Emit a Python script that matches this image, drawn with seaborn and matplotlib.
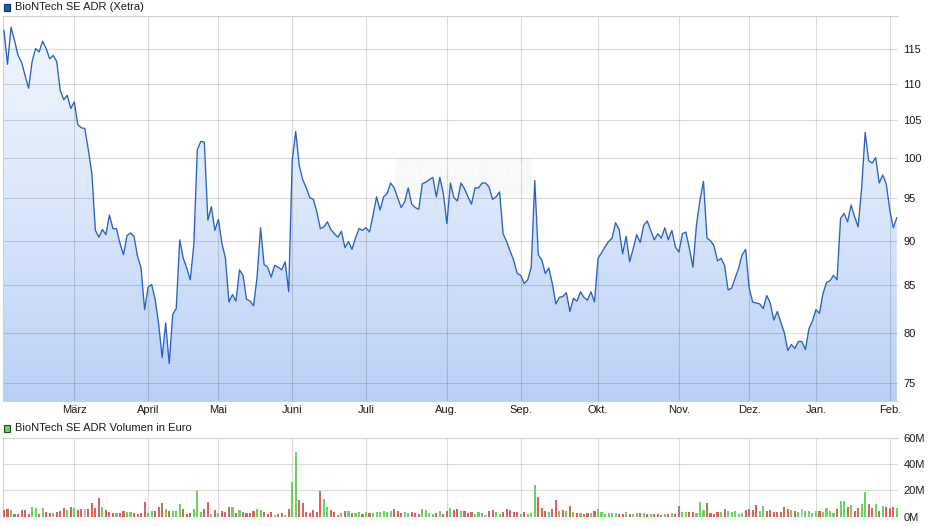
import numpy as np
import pandas as pd
import matplotlib
matplotlib.use('Agg')
import matplotlib.pyplot as plt
import seaborn as sns
from matplotlib.colors import LinearSegmentedColormap
from matplotlib.patches import Rectangle
from matplotlib.ticker import FixedLocator, FixedFormatter, NullLocator

# ---------------- data ----------------
price = [
    117.8, 112.8, 118.3, 116.3, 114.1, 113.1, 111.2, 109.4, 113.2, 115.1,
    114.6, 116.2, 115.1, 113.6, 114.1, 113.2, 109.1, 107.8, 108.4, 106.6,
    107.5, 104.4, 104.0, 103.9, 101.1, 98.1, 91.2, 90.4, 91.3, 90.7,
    93.0, 91.4, 91.4, 89.7, 88.4, 90.6, 90.9, 90.5, 88.2, 86.9,
    82.4, 84.8, 85.1, 83.5, 80.9, 77.5, 81.0, 76.9, 81.9, 82.5,
    90.1, 88.0, 86.9, 85.6, 89.5, 101.1, 102.2, 102.1, 92.4, 94.0,
    91.2, 92.5, 89.7, 88.0, 83.2, 84.0, 83.3, 86.7, 86.1, 83.5,
    83.3, 82.8, 85.9, 91.5, 87.3, 87.0, 85.9, 87.2, 87.0, 86.7,
    87.6, 84.3, 99.8, 103.5, 99.1, 97.3, 96.3, 95.1, 94.9, 93.4,
    91.4, 91.6, 92.2, 91.3, 90.8, 90.4, 91.1, 89.2, 89.9, 89.0,
    90.3, 91.4, 91.2, 91.5, 91.0, 93.0, 95.2, 93.6, 95.2, 95.6,
    96.9, 96.3, 95.1, 93.9, 94.6, 96.3, 94.3, 93.9, 93.7, 96.8,
    97.0, 97.3, 97.6, 95.2, 97.6, 95.6, 92.0, 96.9, 95.1, 94.7,
    96.9, 96.2, 95.2, 94.3, 96.3, 96.3, 96.9, 96.9, 96.4, 94.9,
    95.2, 95.8, 90.8, 89.9, 88.8, 87.8, 86.3, 86.1, 85.2, 85.6,
    87.0, 97.2, 88.4, 87.8, 86.3, 86.9, 85.2, 83.0, 83.7, 83.8,
    84.2, 82.2, 83.6, 83.3, 84.3, 83.7, 83.4, 84.3, 83.2, 88.0,
    88.6, 89.3, 89.9, 90.3, 92.1, 91.3, 88.5, 90.5, 87.6, 89.1,
    90.7, 89.8, 91.8, 92.3, 91.2, 90.1, 90.8, 90.3, 91.5, 90.1,
    91.2, 89.3, 88.7, 90.8, 91.0, 89.1, 87.0, 91.8, 94.8, 97.1,
    90.3, 90.0, 89.4, 87.7, 88.0, 87.2, 84.5, 84.7, 85.8, 86.9,
    88.4, 89.0, 84.7, 83.2, 83.1, 83.0, 82.5, 83.9, 83.1, 81.3,
    82.2, 81.1, 80.0, 78.2, 78.8, 78.4, 79.1, 79.1, 78.3, 80.4,
    81.2, 82.4, 82.0, 84.1, 85.3, 85.5, 86.1, 85.6, 92.6, 93.2,
    92.2, 94.2, 92.8, 91.6, 96.3, 103.4, 99.7, 99.4, 100.1, 96.9,
    97.9, 96.8, 93.6, 91.5, 92.7,
]

# daily volume in million euro
volume_m = [
    5.1, 5.6, 5.1, 2.1, 2.1, 5.1, 5.1, 2.1, 7.2, 6.4,
    2.1, 6.4, 3.3, 2.8, 2.8, 3.3, 4.4, 6.4, 5.1, 7.4,
    6.7, 5.4, 5.6, 5.6, 5.6, 10.3, 6.7, 14.4, 7.4, 5.1,
    3.3, 2.8, 2.8, 2.8, 4.1, 3.3, 3.3, 2.8, 2.1, 2.8,
    11.3, 2.8, 4.1, 4.1, 7.4, 10.5, 5.6, 4.1, 4.4, 4.4,
    9.7, 5.6, 2.3, 2.8, 5.6, 19.5, 3.3, 5.6, 11.3, 2.1,
    5.1, 2.8, 4.1, 3.8, 7.4, 7.4, 2.8, 5.1, 3.3, 2.8,
    2.8, 4.1, 5.6, 5.1, 3.3, 2.1, 3.3, 1.3, 2.1, 2.8,
    1.3, 5.6, 26.7, 49.0, 12.8, 10.5, 3.3, 2.8, 4.9, 3.6,
    19.7, 13.6, 7.4, 5.1, 3.3, 1.3, 2.8, 4.1, 4.1, 2.8,
    2.8, 3.3, 2.1, 3.3, 2.8, 2.8, 3.3, 3.6, 4.1, 3.6,
    4.1, 5.6, 4.4, 2.8, 3.3, 2.8, 3.3, 2.8, 2.1, 5.6,
    5.1, 2.8, 2.1, 2.8, 4.1, 2.1, 4.4, 6.7, 5.1, 5.9,
    4.4, 4.4, 2.8,
    3.3, 2.1, 3.3, 2.8, 1.3, 4.1, 4.9, 3.3, 2.1, 3.3,
    5.6, 4.9, 3.3, 3.3, 2.1, 3.3, 2.1, 2.8, 24.4, 15.1,
    6.4, 4.1, 3.3, 5.6, 12.6, 4.1, 5.1, 4.1, 8.2, 3.3,
    2.8, 2.8, 2.1, 2.8, 2.8, 4.1, 5.6, 3.3, 2.1, 2.8,
    2.8, 2.8, 2.1, 2.1, 3.3, 2.1, 2.1, 2.8, 2.8, 2.8,
    2.1, 2.1, 2.1, 2.1, 1.3, 2.1, 2.1, 2.8, 2.1, 8.2,
    3.6, 3.6, 3.3, 3.6, 2.8, 11.0, 4.9, 10.5, 2.8, 2.1,
    3.6, 3.6, 5.9, 4.1, 3.3, 4.1, 2.1, 2.8, 5.1, 5.6,
    5.1, 9.0, 4.1, 8.2, 4.1, 4.9, 3.3, 3.6, 3.3, 7.4,
    5.6, 4.9, 4.1, 3.3, 5.6, 4.1, 4.1, 2.8, 4.1, 4.1,
    3.3, 6.7, 4.1, 2.8, 5.6, 12.1, 12.1, 7.4, 9.0, 4.4,
    6.7, 9.5, 18.7, 9.5, 6.7, 9.5, 4.4, 8.2, 7.4, 6.7,
    7.4, 6.7,
]

# u = up day (green bar), d = down day (red bar), n = unchanged (grey bar)
direction_groups = [
    "ddudd ddduu", "duddu dddud", "uddnd dddud", "ddudd uuddd",
    "duudd duduu", "udddu uuddu", "duddd ududd", "dduud ddudd",
    "uduud ddddd", "duudd dudud", "uudud uuuuu", "udddu udddu",
    "uuudu ddudd", "udd",
    "duuun dduud", "ddddu duuud", "ddudd ududu", "duddu duuuu",
    "uuddu duudu", "duddd ududd", "uuddu uuddd", "duduu uuudd",
    "dduud ddddd", "dudun uuuud", "uuuud uudud", "duudd ududd",
    "du",
]
direction = list("".join(direction_groups).replace(" ", ""))

month_labels = ['März', 'April', 'Mai', 'Juni', 'Juli', 'Aug.', 'Sep.',
                'Okt.', 'Nov.', 'Dez.', 'Jan.', 'Feb.']
month_pos = [20, 41, 61, 82, 103, 126, 147, 169, 192, 212, 231, 252]
price_ticks = [75, 80, 85, 90, 95, 100, 105, 110, 115]
price_tick_labels = ['75', '80', '85', '90', '95', '100', '105', '110', '115']
volume_ticks = [0, 20, 40, 60]
volume_tick_labels = ['0M', '20M', '40M', '60M']

title_price = 'BioNTech SE ADR (Xetra)'
title_volume = 'BioNTech SE ADR Volumen in Euro'

# ---------------- frames ----------------
m = min(len(volume_m), len(direction))
df_p = pd.DataFrame({'idx': np.arange(len(price)), 'price': price})
df_v = pd.DataFrame({'idx': np.arange(m), 'vol': volume_m[:m],
                     'dir': direction[:m]})

# ---------------- style ----------------
sns.set_style('white')
plt.rcParams['font.family'] = ['Liberation Sans', 'DejaVu Sans']
TXT = '#1a1a1a'
SPINE = '#d0d0d0'

W, H = 940, 526
fig = plt.figure(figsize=(W / 100, H / 100), dpi=100)


def frac(l, t, r, b):
    return [l / W, 1 - b / H, (r - l) / W, (b - t) / H]


ax = fig.add_axes(frac(3, 16, 898, 401))
axv = fig.add_axes(frac(3, 437.7, 898, 516.7))

XL = (-0.28, 254.34)
YL = (73.3, 120.0)

# ---------------- price panel ----------------
ax.set_yscale('log')
sns.lineplot(data=df_p, x='idx', y='price', ax=ax, color='#2a5fc4',
             linewidth=0.95, zorder=3)
poly = ax.fill_between(df_p['idx'], df_p['price'], YL[0], color='none',
                       linewidth=0)
cmap = LinearSegmentedColormap.from_list('g', ['#b9d0f6', '#dae7fb', '#f3f7fe'])
grad = np.linspace(0, 1, 256).reshape(-1, 1)
im = ax.imshow(grad, cmap=cmap, origin='lower', aspect='auto',
               extent=[0, 1, 0, 1], transform=ax.transAxes, zorder=0.2)
im.set_clip_path(poly.get_paths()[0], ax.transData)

ax.set_xlim(*XL)
ax.set_ylim(*YL)
ax.yaxis.set_major_locator(FixedLocator(price_ticks))
ax.yaxis.set_major_formatter(FixedFormatter(price_tick_labels))
ax.yaxis.set_minor_locator(NullLocator())
ax.xaxis.set_major_locator(FixedLocator(month_pos))
ax.xaxis.set_major_formatter(FixedFormatter(month_labels))
ax.yaxis.tick_right()
ax.tick_params(axis='y', length=0, pad=4, labelsize=8, colors=TXT)
ax.tick_params(axis='x', length=0, pad=3, labelsize=8, colors=TXT)
ax.set_xlabel('')
ax.set_ylabel('')
ax.set_axisbelow(True)
ax.grid(True, which='major', color='black', alpha=0.14, linewidth=0.8)
for s in ['left', 'bottom', 'top']:
    ax.spines[s].set_color(SPINE)
    ax.spines[s].set_linewidth(0.8)
ax.spines['right'].set_visible(False)

ax.text(0.515, 0.585, 'ARIVA.DE', transform=ax.transAxes, ha='center',
        va='center', fontsize=19, fontweight='bold', style='italic',
        color='white', alpha=0.35, zorder=2.5,
        bbox=dict(boxstyle='round,pad=0.25', fc='#8fa0bb', ec='none',
                  alpha=0.07))

# ---------------- volume panel ----------------
pal = {'u': '#66d65e', 'd': '#dc6262', 'n': '#bdbdbd'}
sns.barplot(data=df_v, x='idx', y='vol', hue='dir', palette=pal,
            native_scale=True, dodge=False, width=0.6, linewidth=0,
            saturation=1, legend=False, ax=axv, zorder=3)
for p in axv.patches:
    p.set_antialiased(False)
axv.set_xlim(*XL)
axv.set_ylim(0, 60)
axv.yaxis.set_major_locator(FixedLocator(volume_ticks))
axv.yaxis.set_major_formatter(FixedFormatter(volume_tick_labels))
axv.xaxis.set_major_locator(FixedLocator(month_pos))
axv.xaxis.set_major_formatter(FixedFormatter([''] * len(month_pos)))
axv.yaxis.tick_right()
axv.tick_params(axis='y', length=0, pad=4, labelsize=8, colors=TXT)
axv.tick_params(axis='x', length=0)
axv.set_xlabel('')
axv.set_ylabel('')
axv.set_axisbelow(True)
axv.grid(True, which='major', color='black', alpha=0.14, linewidth=0.8)
for s in ['left', 'top']:
    axv.spines[s].set_color(SPINE)
    axv.spines[s].set_linewidth(0.8)
axv.spines['right'].set_visible(False)
axv.spines['bottom'].set_visible(False)

# ---------------- titles with legend squares ----------------
fig.patches.append(Rectangle((3.5 / W, 1 - 10.5 / H), 6.5 / W, 6.5 / H,
                             transform=fig.transFigure, fc='#2358c0',
                             ec='#0d2a66', lw=0.8))
fig.text(15 / W, 1 - 6.5 / H, title_price, ha='left', va='center',
         fontsize=8, color=TXT)
fig.patches.append(Rectangle((3.5 / W, 1 - 431.5 / H), 6.5 / W, 6.5 / H,
                             transform=fig.transFigure, fc='#66d65e',
                             ec='#1f4d1a', lw=0.8))
fig.text(15 / W, 1 - 428 / H, title_volume, ha='left', va='center',
         fontsize=8, color=TXT)

fig.savefig('out.png', dpi=100)
